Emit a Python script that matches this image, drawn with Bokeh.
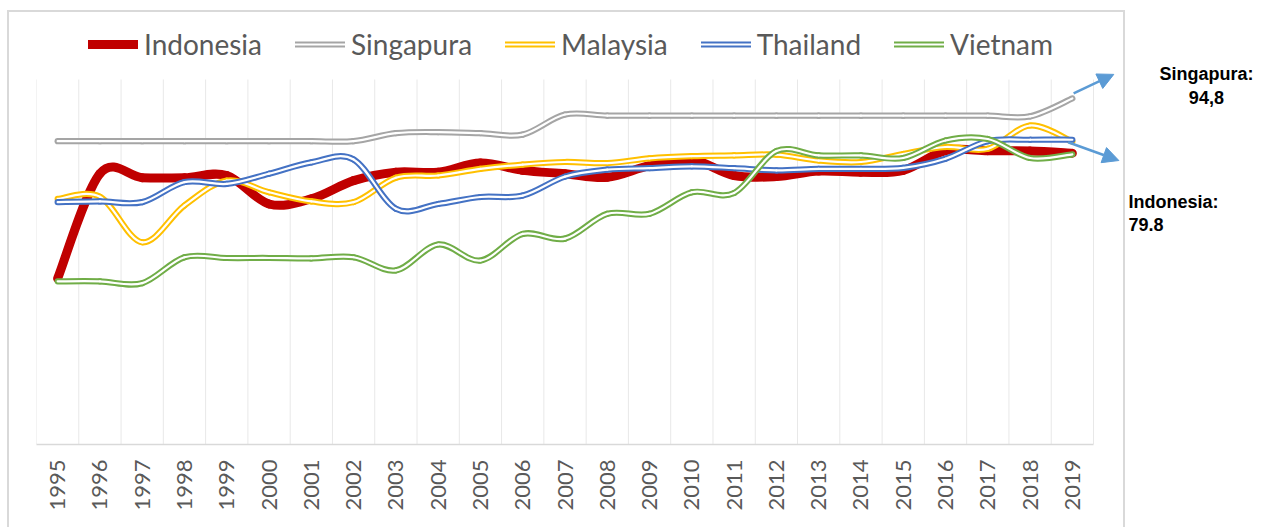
import math
from bokeh.plotting import figure
from bokeh.models import (Range1d, FixedTicker, Legend, LegendItem, Arrow, NormalHead,
                          Label, ColumnDataSource)
from bokeh.embed import file_html
from bokeh.resources import INLINE

# ---------------- data ----------------
years = [1995, 1996, 1997, 1998, 1999, 2000, 2001, 2002, 2003, 2004, 2005, 2006,
         2007, 2008, 2009, 2010, 2011, 2012, 2013, 2014, 2015, 2016, 2017, 2018, 2019]
tick_labels = ["1995", "1996", "1997", "1998", "1999", "2000", "2001", "2002", "2003",
               "2004", "2005", "2006", "2007", "2008", "2009", "2010", "2011", "2012",
               "2013", "2014", "2015", "2016", "2017", "2018", "2019"]
indonesia = [45.5, 74.2, 73.1, 73.1, 73.7, 65.9, 67.3, 72.3, 74.6, 74.6, 77.1, 75.1,
             74.2, 73.2, 76.4, 78.0, 73.7, 73.4, 74.9, 74.6, 75.1, 80.5, 80.5, 80.4, 79.8]
singapura = [83.1, 83.1, 83.1, 83.1, 83.1, 83.1, 83.1, 83.1, 85.3, 85.6, 85.3, 84.9,
             90.4, 90.1, 90.1, 90.1, 90.1, 90.1, 90.1, 90.1, 90.1, 90.1, 90.1, 89.9, 94.8]
malaysia = [67.3, 67.9, 55.4, 65.5, 72.3, 69.1, 66.6, 66.4, 73.1, 73.7, 75.5, 76.7,
            77.4, 77.1, 78.4, 79.0, 79.2, 79.4, 77.8, 77.4, 79.6, 81.5, 81.0, 87.4, 83.0]
thailand = [66.4, 66.6, 66.4, 71.9, 71.4, 74.2, 77.3, 78.1, 64.6, 65.9, 67.8, 68.2,
            73.4, 75.3, 75.7, 76.2, 75.7, 75.1, 75.5, 75.5, 75.8, 78.3, 83.1, 83.5, 83.5]
vietnam = [44.7, 44.7, 44.2, 51.3, 51.1, 51.1, 51.0, 51.3, 47.7, 54.8, 50.4, 57.7,
           56.4, 63.2, 63.2, 69.1, 68.9, 80.4, 79.2, 79.2, 78.5, 83.3, 83.7, 78.5, 79.5]

series_names = ["Indonesia", "Singapura", "Malaysia", "Thailand", "Vietnam"]
series_values = [indonesia, singapura, malaysia, thailand, vietnam]
series_colors = ["#C00000", "#A5A5A5", "#FFC000", "#4472C4", "#70AD47"]

FONT = "Lato"
Y_MIN, Y_MAX = 0, 100            # value axis of the chart area


def smooth_source(xs, ys):
    """Bezier segments (Excel-like smoothed line) between consecutive data points."""
    n = len(xs)
    d = dict(x0=[], y0=[], x1=[], y1=[], cx0=[], cy0=[], cx1=[], cy1=[])
    for i in range(n - 1):
        a = i - 1 if i > 0 else i
        b = i + 2 if i + 2 < n else i + 1
        d["x0"].append(xs[i]); d["y0"].append(ys[i])
        d["x1"].append(xs[i + 1]); d["y1"].append(ys[i + 1])
        d["cx0"].append(xs[i] + (xs[i + 1] - xs[a]) / 6.0)
        d["cy0"].append(ys[i] + (ys[i + 1] - ys[a]) / 6.0)
        d["cx1"].append(xs[i + 1] - (xs[b] - xs[i]) / 6.0)
        d["cy1"].append(ys[i + 1] - (ys[b] - ys[i]) / 6.0)
    return ColumnDataSource(d)


# frame: left 36px, bottom 444px; it extends to the top and right so that the
# legend, arrows and notes (outside the value area) are drawn inside it
W, H = 1260, 526
px_per_year = 42.28
px_per_unit = 3.65
x_lo = years[0] - 0.5
x_hi = x_lo + (W - 36) / px_per_year
y_hi = (444 - 10) / px_per_unit

p = figure(width=W, height=H, output_backend="svg", toolbar_location=None,
           x_range=Range1d(x_lo, x_hi), y_range=Range1d(Y_MIN, y_hi),
           y_axis_location=None, min_border_left=36, min_border_right=0,
           min_border_top=10, min_border_bottom=H - 444)
p.outline_line_color = None
p.background_fill_color = "white"
p.border_fill_color = "white"

# outer chart border (CSS frame around the chart area)
p.stylesheets = [
    ":host { position: relative; }"
    ":host::after { content: ''; position: absolute; left: 7px; top: 10px;"
    " width: 1114px; height: 520px; border: 2px solid #D9D9D9; border-bottom: none;"
    " pointer-events: none; box-sizing: content-box; }"
]

# axis
p.xaxis.ticker = FixedTicker(ticks=years)
p.xaxis.major_label_overrides = {y: t for y, t in zip(years, tick_labels)}
p.xaxis.major_label_orientation = math.pi / 2
p.xaxis.major_label_text_font = FONT
p.xaxis.major_label_text_font_size = "22px"
p.xaxis.major_label_text_color = "#595959"
p.xaxis.major_label_standoff = 9
p.xaxis.major_tick_line_color = None
p.xaxis.minor_tick_line_color = None
p.xaxis.axis_line_color = "#D9D9D9"
p.xaxis.axis_line_width = 1.5
p.xaxis.bounds = (years[0] - 0.5, years[-1] + 0.5)

# vertical grid lines between categories, limited to the value area
p.xgrid.visible = False
p.ygrid.visible = False
edges = [y - 0.5 for y in years] + [years[-1] + 0.5]
p.segment(x0=edges, y0=[Y_MIN] * len(edges), x1=edges, y1=[Y_MAX] * len(edges),
          line_color="#E8E8E8", line_width=1, level="underlay")

items = []
for name, vals, col in zip(series_names, series_values, series_colors):
    src = smooth_source(years, vals)
    if name == "Indonesia":
        r = p.bezier(x0="x0", y0="y0", x1="x1", y1="y1", cx0="cx0", cy0="cy0",
                     cx1="cx1", cy1="cy1", source=src, line_color=col, line_width=9,
                     line_cap="round", line_join="round")
        items.append(LegendItem(label=name, renderers=[r]))
    else:
        r1 = p.bezier(x0="x0", y0="y0", x1="x1", y1="y1", cx0="cx0", cy0="cy0",
                      cx1="cx1", cy1="cy1", source=src, line_color=col, line_width=6.2,
                      line_cap="round")
        r2 = p.bezier(x0="x0", y0="y0", x1="x1", y1="y1", cx0="cx0", cy0="cy0",
                      cx1="cx1", cy1="cy1", source=src, line_color="white", line_width=2.2,
                      line_cap="round")
        items.append(LegendItem(label=name, renderers=[r1, r2]))

legend = Legend(items=items, orientation="horizontal", location=(52, 383),
                glyph_width=50, glyph_height=20, label_standoff=6, spacing=33,
                padding=0, margin=0, border_line_color=None, background_fill_alpha=0,
                label_text_font=FONT, label_text_font_size="28px",
                label_text_color="#595959")
p.add_layout(legend, "center")

# arrows to the annotations
arrow_col = "#5B9BD5"
p.add_layout(Arrow(end=NormalHead(size=16, fill_color=arrow_col, line_color=arrow_col),
                   x_start=years[-1] + 0.03, y_start=singapura[-1] + 1.4,
                   x_end=2019.98, y_end=101.4, line_color=arrow_col, line_width=2.5))
p.add_layout(Arrow(end=NormalHead(size=16, fill_color=arrow_col, line_color=arrow_col),
                   x_start=years[-1] - 0.1, y_start=indonesia[-1] + 3.0,
                   x_end=2020.1, y_end=77.8, line_color=arrow_col, line_width=2.5))

# annotation texts
lab_kw = dict(text_font="Liberation Sans", text_font_style="bold",
              text_font_size="18px", text_color="#000000", text_baseline="alphabetic")
p.add_layout(Label(x=2022.17, y=101.6, text="Singapura:", text_align="center", **lab_kw))
p.add_layout(Label(x=2022.17, y=95.1, text="94,8", text_align="center", **lab_kw))
p.add_layout(Label(x=2020.33, y=66.4, text="Indonesia:", text_align="left", **lab_kw))
p.add_layout(Label(x=2020.33, y=60.3, text="79.8", text_align="left", **lab_kw))

open("out.html", "w").write(file_html(p, INLINE))
